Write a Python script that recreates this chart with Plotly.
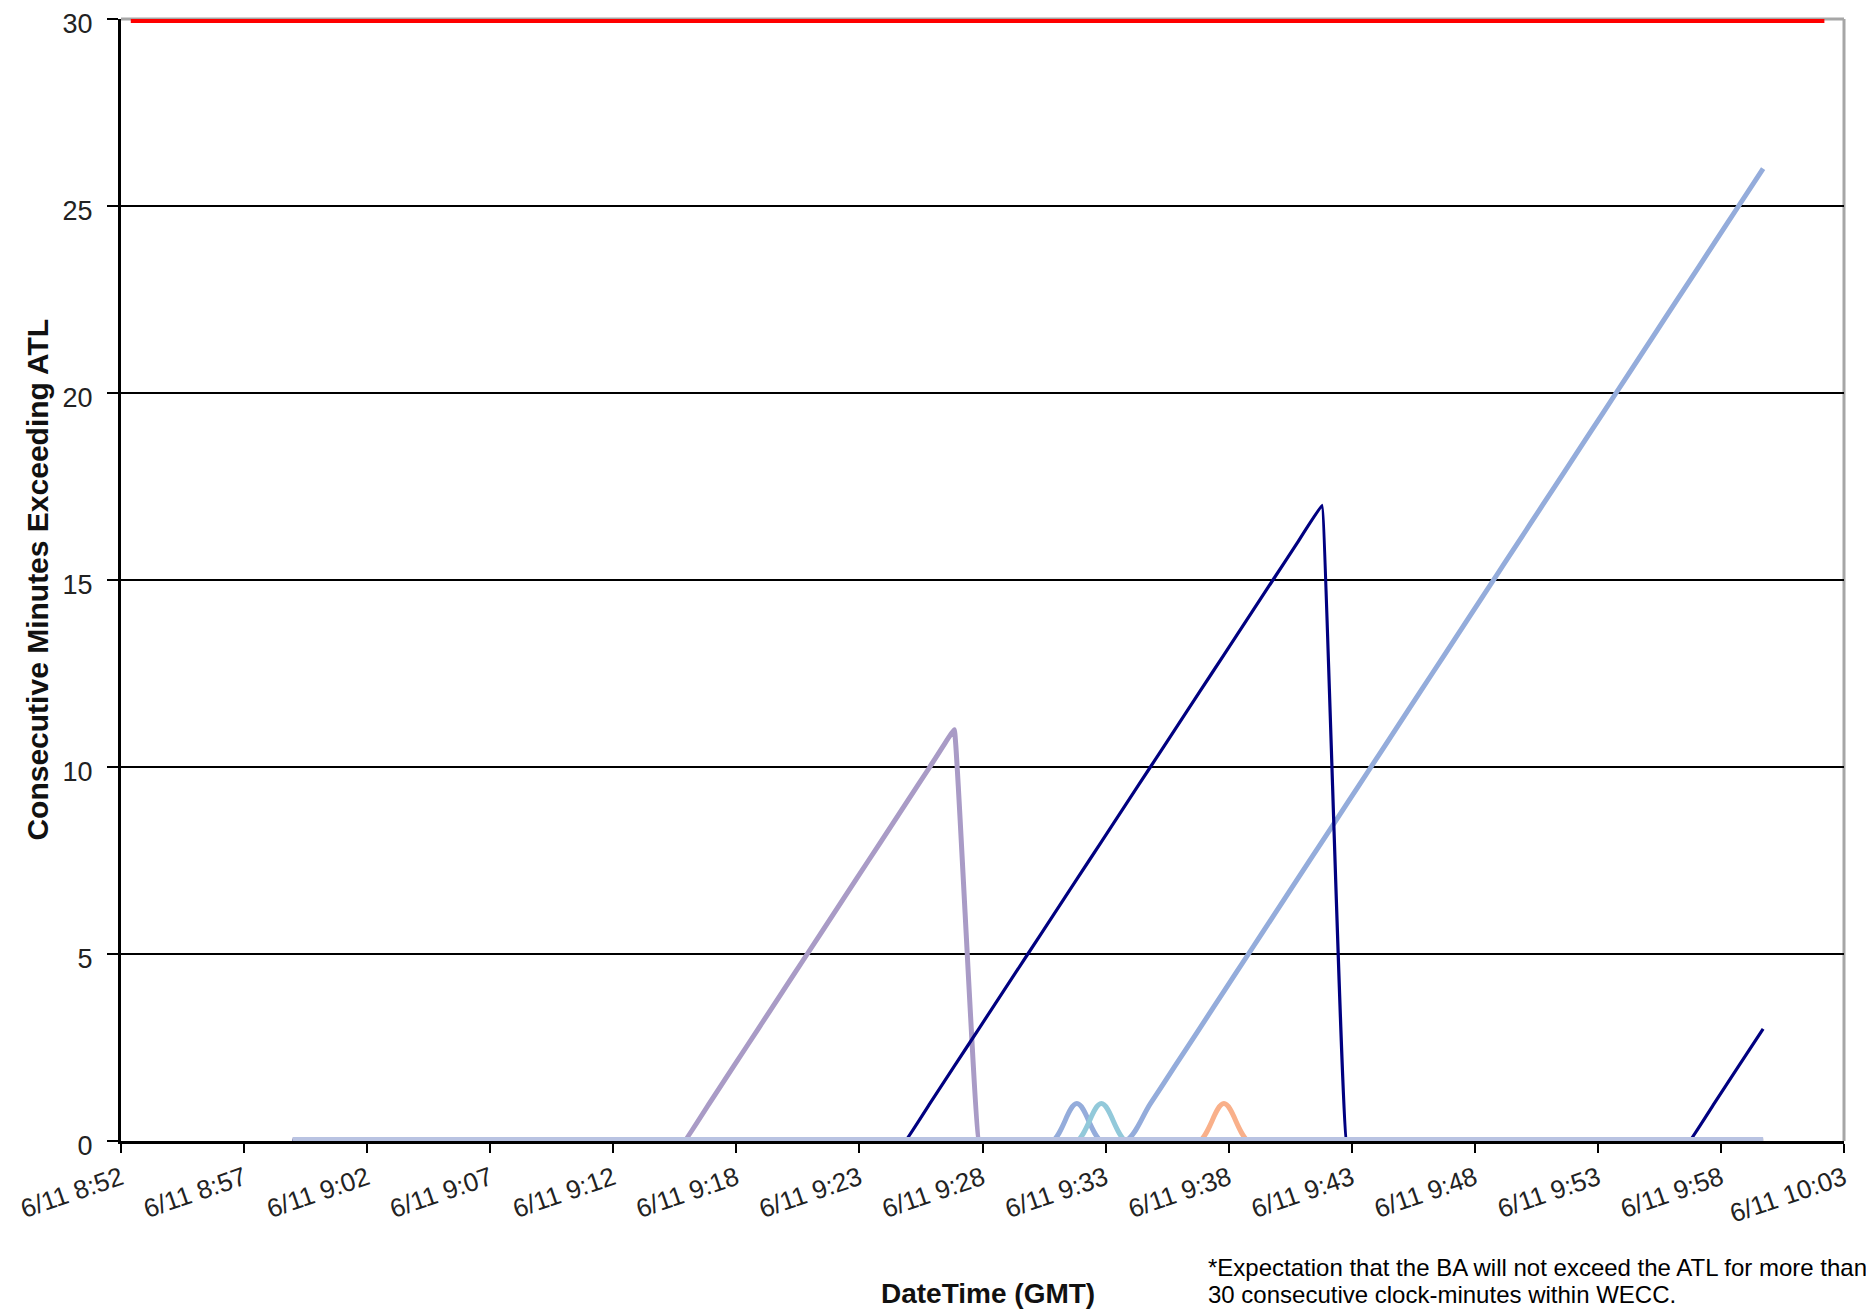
import numpy as np
import plotly.graph_objects as go

# Minutes after 6/11 8:52 GMT (one sample per minute, 8:59 .. 9:59)
minutes = list(range(7, 68))

# Consecutive minutes exceeding ATL, per series (values for minutes 7..67)
series_a = [0]*17 + [1, 2, 3, 4, 5, 6, 7, 8, 9, 10, 11, 0] + [0]*32          # lavender
series_b = ([0]*26 + [1, 2, 3, 4, 5, 6, 7, 8, 9, 10, 11, 12, 13, 14, 15, 16, 17, 0]
            + [0]*14 + [1, 2, 3])                                             # navy
series_c = ([0]*32 + [1, 0, 0] + [1, 2, 3, 4, 5, 6, 7, 8, 9, 10, 11, 12, 13, 14, 15,
            16, 17, 18, 19, 20, 21, 22, 23, 24, 25, 26])                       # steel blue
series_d = [0]*33 + [1] + [0]*27                                               # teal
series_e = [0]*38 + [1] + [0]*22                                               # orange
series_f = [0]*61                                                              # baseline

atl_x = [0.4, 69.5]
atl_y = [30, 30]

tick_labels = ["6/11 8:52", "6/11 8:57", "6/11 9:02", "6/11 9:07", "6/11 9:12",
               "6/11 9:18", "6/11 9:23", "6/11 9:28", "6/11 9:33", "6/11 9:38",
               "6/11 9:43", "6/11 9:48", "6/11 9:53", "6/11 9:58", "6/11 10:03"]

X_END = 70.3
tick_vals = list(np.linspace(0, X_END, len(tick_labels)))

SANS = "Liberation Sans, Arial, sans-serif"

fig = go.Figure()

fig.add_trace(go.Scatter(x=atl_x, y=atl_y, mode="lines", cliponaxis=False,
                         line=dict(color="#FF0000", width=8), name="ATL limit"))
fig.add_trace(go.Scatter(x=minutes, y=series_c, mode="lines",
                         line=dict(color="#94ACDB", width=5, shape="spline", smoothing=1.0)))
fig.add_trace(go.Scatter(x=minutes, y=series_d, mode="lines",
                         line=dict(color="#92C9DA", width=5, shape="spline", smoothing=1.0)))
fig.add_trace(go.Scatter(x=minutes, y=series_e, mode="lines",
                         line=dict(color="#F9B08A", width=5, shape="spline", smoothing=1.0)))
fig.add_trace(go.Scatter(x=minutes, y=series_a, mode="lines",
                         line=dict(color="#A99BC6", width=5, shape="spline", smoothing=0.12)))
fig.add_trace(go.Scatter(x=minutes, y=series_b, mode="lines",
                         line=dict(color="#000080", width=3.2, shape="spline", smoothing=0.12)))
fig.add_trace(go.Scatter(x=minutes, y=series_f, mode="lines",
                         line=dict(color="#B9C3E2", width=8)))

# the page body has an 8px margin, so the figure is 8px smaller and margins shifted by 8
fig.update_layout(
    width=1866, height=1306,
    margin=dict(l=113, r=30, t=11, b=173, autoexpand=False),
    paper_bgcolor="white", plot_bgcolor="white",
    showlegend=False,
    xaxis=dict(range=[0, X_END], tickvals=tick_vals, ticktext=tick_labels,
               tickangle=-19, ticks="outside", ticklen=9, tickwidth=2, tickcolor="#000",
               showline=True, linecolor="#000", linewidth=3, showgrid=False, zeroline=False,
               automargin=False, layer="below traces", ticklabeloverflow="allow",
               tickfont=dict(family=SANS, size=26, color="#222")),
    yaxis=dict(range=[0, 30], dtick=5, ticks="outside", ticklen=11, tickwidth=2,
               tickcolor="#000", showline=True, linecolor="#000", linewidth=3,
               showgrid=True, gridcolor="#000", gridwidth=1.6, zeroline=False,
               ticklabelstandoff=9, ticklabelshift=5, automargin=False,
               layer="below traces", ticklabeloverflow="allow",
               tickfont=dict(family=SANS, size=27, color="#222")),
    shapes=[
        dict(type="line", xref="paper", yref="paper", x0=0, x1=1, y0=1, y1=1,
             line=dict(color="#A6A6A6", width=3), layer="between"),
        dict(type="line", xref="paper", yref="paper", x0=1, x1=1, y0=0, y1=1,
             line=dict(color="#A6A6A6", width=3), layer="between"),
    ],
    annotations=[
        dict(text="<b>Consecutive Minutes Exceeding ATL</b>", xref="paper", yref="paper",
             x=-0.049, y=0.5, textangle=-90, showarrow=False, xanchor="center", yanchor="middle",
             font=dict(family=SANS, size=30, color="#111")),
        dict(text="<b>DateTime (GMT)</b>", xref="paper", yref="paper",
             x=0.503, y=-0.136, showarrow=False, xanchor="center", yanchor="middle",
             font=dict(family=SANS, size=28, color="#111")),
        dict(text="*Expectation that the BA will not exceed the ATL for more than",
             xref="paper", yref="paper", x=0.630, y=-0.1123, showarrow=False,
             xanchor="left", yanchor="middle", align="left",
             font=dict(family=SANS, size=24, color="#000")),
        dict(text="30 consecutive clock-minutes within WECC.",
             xref="paper", yref="paper", x=0.630, y=-0.1364, showarrow=False,
             xanchor="left", yanchor="middle", align="left",
             font=dict(family=SANS, size=24, color="#000")),
    ],
)

fig.write_html("out.html")
